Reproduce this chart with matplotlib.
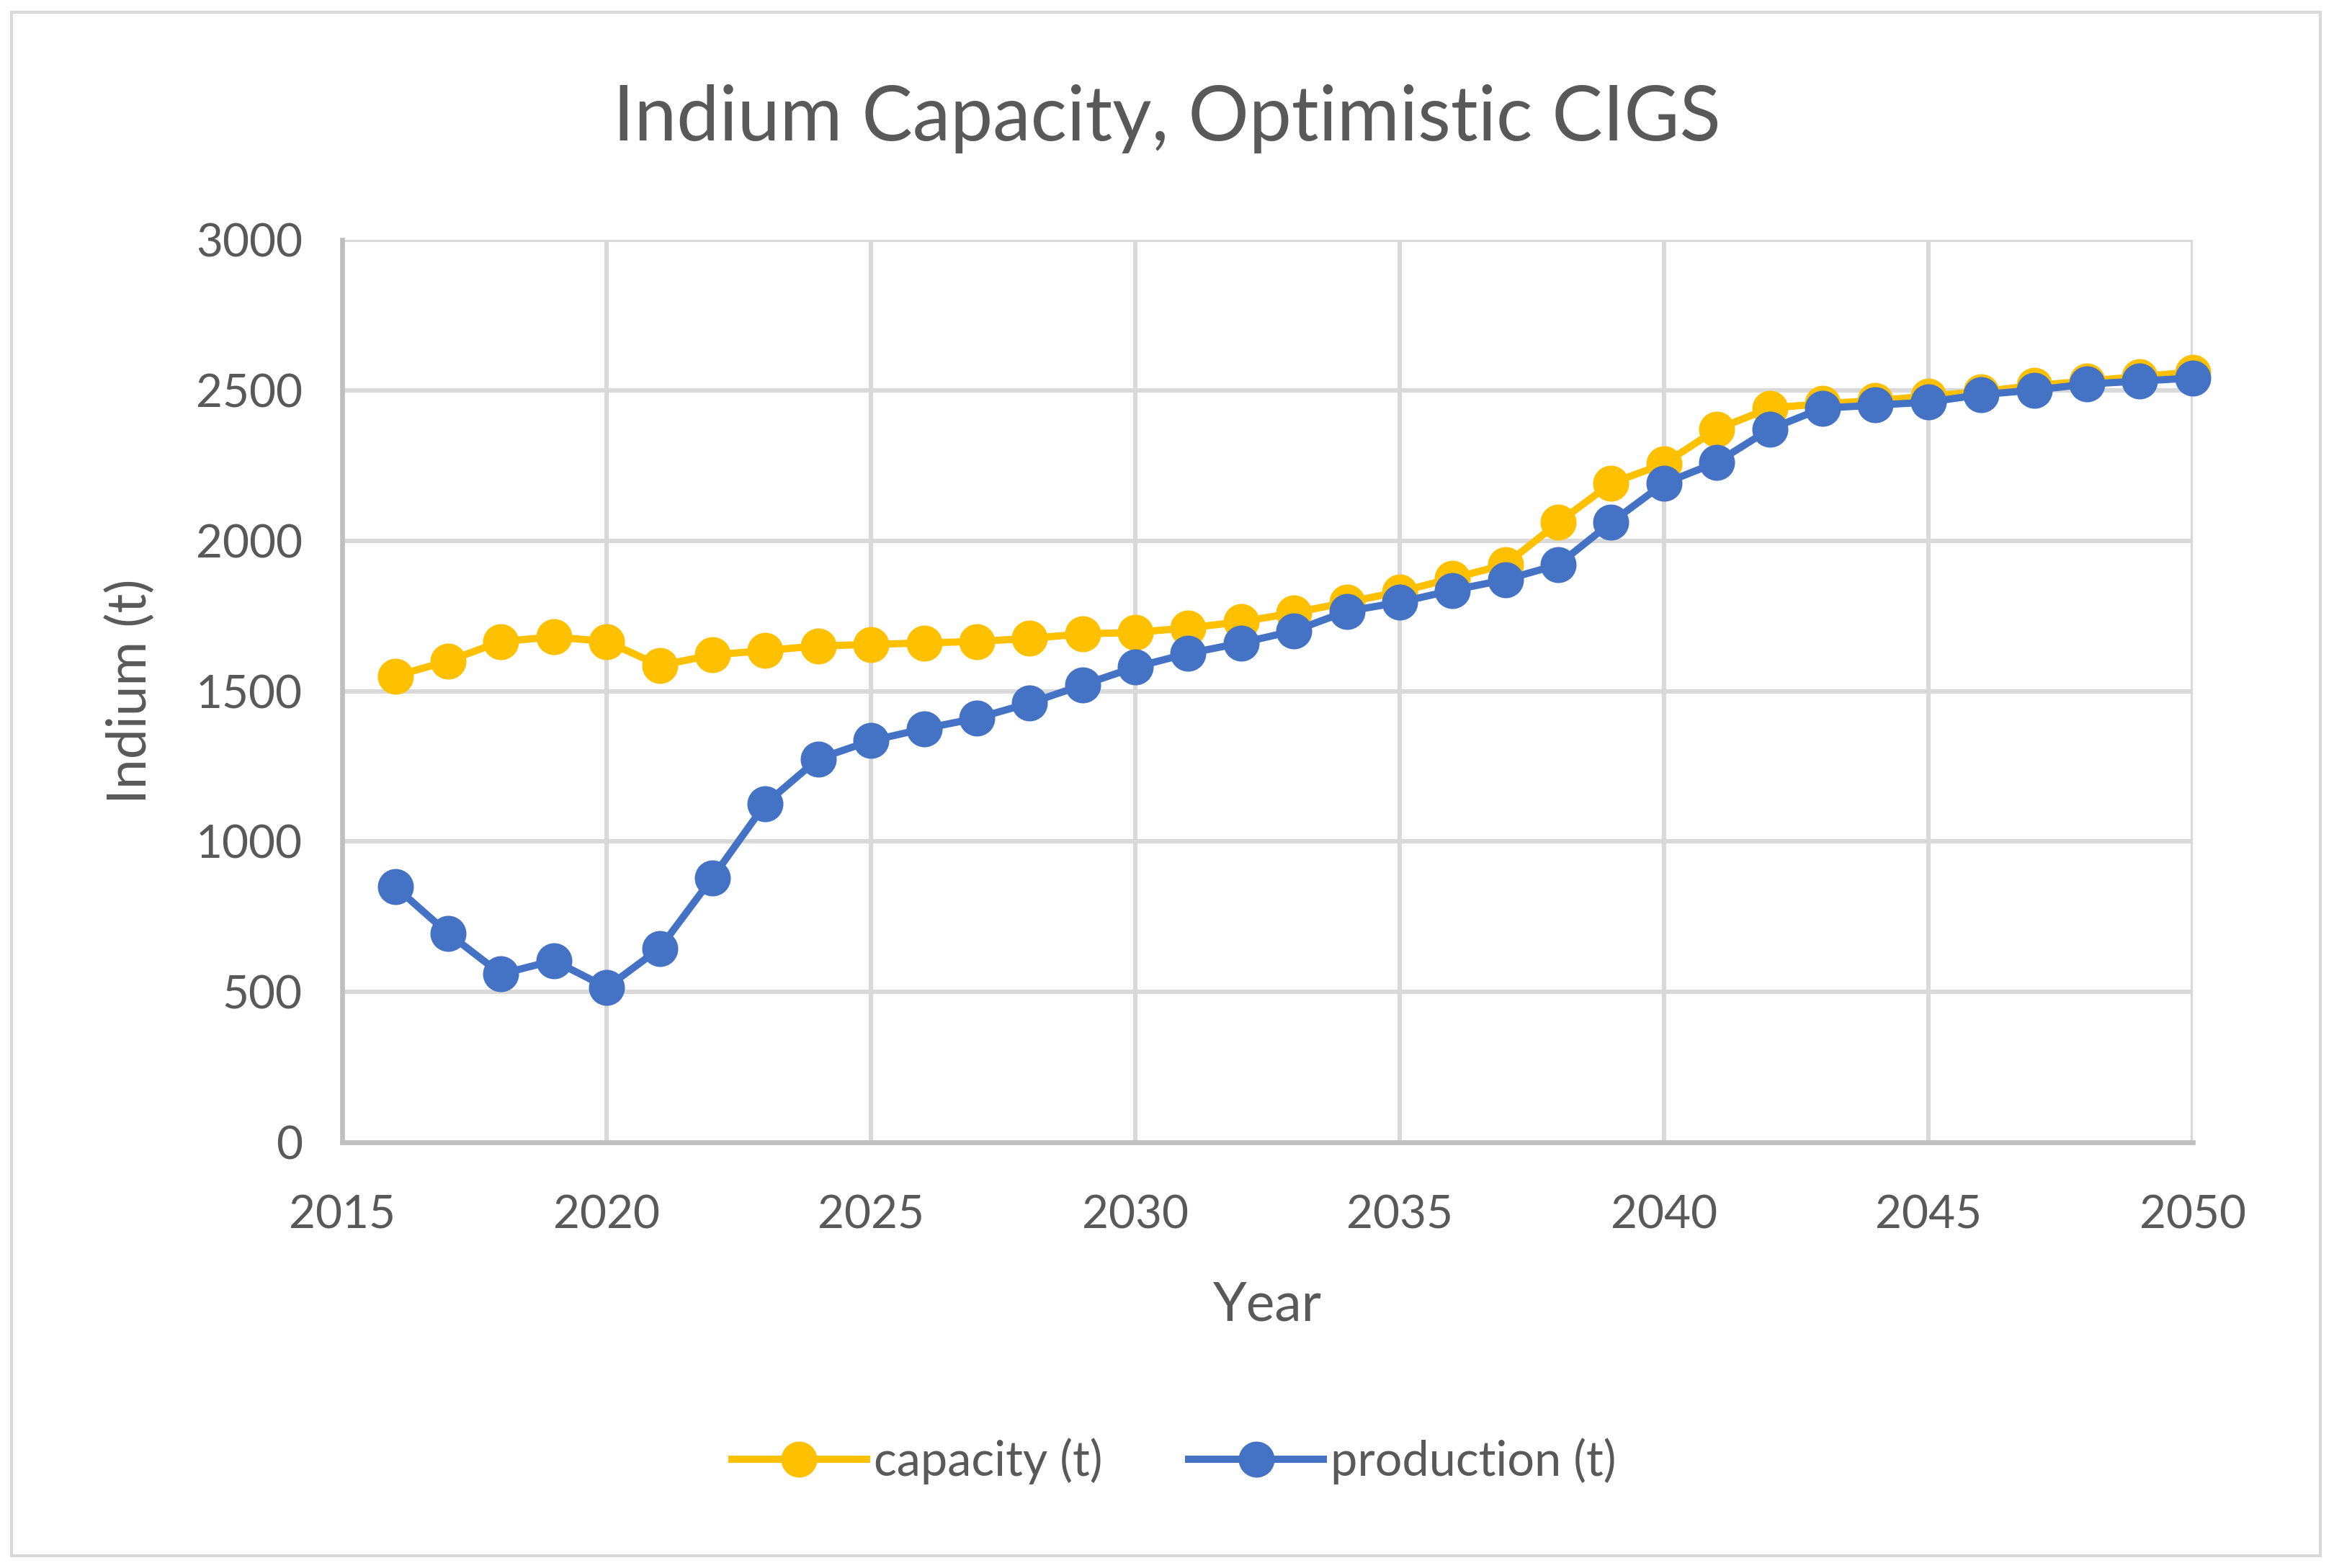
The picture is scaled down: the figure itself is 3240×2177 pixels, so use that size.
import matplotlib.pyplot as plt
from matplotlib.patches import Rectangle

years = list(range(2016, 2051))
capacity = [1550, 1600, 1665, 1680, 1665, 1585, 1620, 1635, 1650, 1655,
            1660, 1665, 1675, 1690, 1695, 1710, 1730, 1760, 1795, 1830,
            1875, 1920, 2060, 2190, 2255, 2370, 2440, 2455, 2465, 2480,
            2495, 2515, 2530, 2545, 2560]
production = [850, 695, 560, 605, 515, 645, 880, 1125, 1275, 1335,
              1375, 1410, 1460, 1520, 1580, 1625, 1660, 1700, 1765, 1795,
              1835, 1870, 1920, 2060, 2190, 2260, 2370, 2440, 2450, 2460,
              2485, 2500, 2520, 2530, 2540]
x_ticks = [2015, 2020, 2025, 2030, 2035, 2040, 2045, 2050]
y_ticks = [0, 500, 1000, 1500, 2000, 2500, 3000]

plt.rcParams['font.family'] = ['Lato', 'DejaVu Sans']
text_color = '#595959'

fig = plt.figure(figsize=(16.2, 10.885), dpi=200)
ax = fig.add_axes([0.1467, 0.2713, 0.7927, 0.5759])

# chart border
fig.patches.append(Rectangle((0.005, 0.008), 0.989, 0.984, transform=fig.transFigure,
                             fill=False, edgecolor='#D9D9D9', linewidth=1.5))

ax.plot(years, capacity, color='#FFC000', linewidth=3.6, marker='o', markersize=17,
        label='capacity (t)', zorder=3, clip_on=False)
ax.plot(years, production, color='#4472C4', linewidth=3.6, marker='o', markersize=17,
        label='production (t)', zorder=4, clip_on=False)

ax.set_xlim(2015, 2050)
ax.set_ylim(0, 3000)
ax.set_xticks(x_ticks)
ax.set_yticks(y_ticks)
ax.grid(True, color='#D9D9D9', linewidth=2.2)
ax.set_axisbelow(True)
ax.tick_params(length=0, labelsize=23, labelcolor=text_color)
ax.tick_params(axis='x', pad=26)
ax.tick_params(axis='y', pad=20)
for side in ['top', 'right']:
    ax.spines[side].set_visible(False)
for side in ['left', 'bottom']:
    ax.spines[side].set_color('#BFBFBF')
    ax.spines[side].set_linewidth(2.4)

ax.set_xlabel('Year', fontsize=27, color=text_color, labelpad=22)
ax.set_ylabel('Indium (t)', fontsize=27, color=text_color, labelpad=20)
fig.text(0.5, 0.924, 'Indium Capacity, Optimistic CIGS', ha='center', va='center',
         fontsize=38, color=text_color)

fig.legend(loc='center', bbox_to_anchor=(0.503, 0.068), ncol=2, frameon=False,
           fontsize=24, labelcolor=text_color, handlelength=2.8, handletextpad=0.15,
           columnspacing=1.8)

fig.savefig('out.png', dpi=200)
